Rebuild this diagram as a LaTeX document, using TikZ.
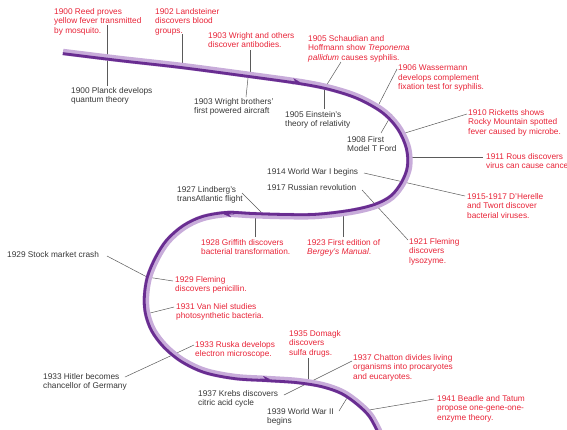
\documentclass[tikz,border=0pt]{standalone}
\usepackage{fontspec}
\setmainfont{Liberation Sans}
\usetikzlibrary{arrows.meta}
\definecolor{redtxt}{RGB}{232,35,55}
\definecolor{graytxt}{RGB}{55,55,55}
\definecolor{bandlight}{RGB}{200,172,218}
\definecolor{banddark}{RGB}{105,45,145}
\definecolor{conn}{RGB}{90,90,90}
\begin{document}
\begin{tikzpicture}[x=1pt,y=-1pt,
  lbl/.style={anchor=north west, inner sep=0pt, align=left, font=\fontsize{8.3}{9.4}\selectfont},
  ev/.style={lbl, text=redtxt},
  hist/.style={lbl, text=graytxt},
  con/.style={draw=conn, line width=0.5pt},
  tip/.style={-{Stealth[length=7pt,width=6pt]}, draw=banddark, fill=banddark, line width=0.1pt}]
\useasboundingbox (0,0) rectangle (567,429);

% connector end points
\coordinate (a1) at (107,25);  \coordinate (a2) at (107,86);
\coordinate (b1) at (182,34);  \coordinate (b2) at (182,66);
\coordinate (c1) at (250,50);  \coordinate (c2) at (250,75);
\coordinate (d1) at (246,97);  \coordinate (d2) at (248,78);
\coordinate (e1) at (341,62);  \coordinate (e2) at (326,86);
\coordinate (f1) at (324,109); \coordinate (f2) at (324,89);
\coordinate (g1) at (397,69);  \coordinate (g2) at (379,104);
\coordinate (h1) at (381,133); \coordinate (h2) at (392,114);
\coordinate (i1) at (467,114); \coordinate (i2) at (405,133);
\coordinate (j1) at (483,157); \coordinate (j2) at (410,157);
\coordinate (k1) at (364,173); \coordinate (k2) at (465,196);
\coordinate (l1) at (362,190); \coordinate (l2) at (408,240);
\coordinate (m1) at (343,237); \coordinate (m2) at (343,213);
\coordinate (n1) at (242,193); \coordinate (n2) at (262,213);
\coordinate (o1) at (255,237); \coordinate (o2) at (255,215);
\coordinate (p1) at (107,256); \coordinate (p2) at (147,277); \coordinate (p3) at (173,281);
\coordinate (q1) at (174,307); \coordinate (q2) at (150,313);
\coordinate (r1) at (194,345); \coordinate (r2) at (125,377);
\coordinate (s1) at (308,358); \coordinate (s2) at (308,381);
\coordinate (t1) at (352,361); \coordinate (t2) at (284,395);
\coordinate (u1) at (339,411); \coordinate (u2) at (347,398);
\coordinate (v1) at (434,399); \coordinate (v2) at (369,410);

\draw[con] (a1) -- (a2);
\draw[con] (b1) -- (b2);
\draw[con] (c1) -- (c2);
\draw[con] (d1) -- (d2);
\draw[con] (e1) -- (e2);
\draw[con] (f1) -- (f2);
\draw[con] (g1) -- (g2);
\draw[con] (h1) -- (h2);
\draw[con] (i1) -- (i2);
\draw[con] (j1) -- (j2);
\draw[con] (k1) -- (k2);
\draw[con] (l1) -- (l2);
\draw[con] (m1) -- (m2);
\draw[con] (n1) -- (n2);
\draw[con] (o1) -- (o2);
\draw[con] (p1) -- (p2) -- (p3);
\draw[con] (q1) -- (q2);
\draw[con] (r1) -- (r2);
\draw[con] (s1) -- (s2);
\draw[con] (t1) -- (t2);
\draw[con] (u1) -- (u2);
\draw[con] (v1) -- (v2);

% the time band: light ribbon with a dark edge on the right-hand side of travel
\draw[bandlight, line width=6.5pt] plot[smooth, tension=0.55] coordinates {(63,52) (120,59) (182,66) (250,75) (300,82) (330,88) (358,97) (383,111) (399,128) (408,148) (409,167) (403,183) (392,197) (375,206) (350,212) (315,216) (280,216) (250,215) (227,214) (203,218) (184,227) (168,241) (157,258) (149,277) (146,296) (147,313) (153,330) (165,346) (182,360) (205,371) (235,377) (267,379) (297,381) (322,385) (342,392) (358,403) (371,416) (381,435)};
\draw[banddark, line width=2.8pt] plot[smooth, tension=0.55] coordinates {(62.8,53.6) (119.8,60.6) (181.8,67.6) (249.8,76.6) (299.7,83.6) (329.6,89.5) (357.4,98.5) (382,112.3) (397.7,128.9) (406.4,148.4) (407.4,166.8) (401.6,182.2) (391,195.8) (374.5,204.5) (349.7,210.4) (314.9,214.4) (280,214.4) (250.1,213.4) (226.9,212.4) (202.5,216.5) (183.1,225.7) (166.8,240) (155.6,257.3) (147.5,276.6) (144.4,295.9) (145.4,313.3) (151.6,330.8) (163.8,347.1) (181.2,361.4) (204.5,372.5) (234.8,378.6) (266.9,380.6) (296.8,382.6) (321.6,386.6) (341.3,393.4) (357,404.2) (369.7,416.9) (379.6,435.8)};

\coordinate (w1) at (290,80.9); \coordinate (w2) at (300,82.2);
\coordinate (x1) at (234,214.2); \coordinate (x2) at (224,214.3);
\coordinate (y1) at (260,378.8); \coordinate (y2) at (270,379.2);
\draw[tip] (w1) -- (w2);
\draw[tip] (x1) -- (x2);
\draw[tip] (y1) -- (y2);

% labels
\node[ev] (reed) at (54,8) {1900 Reed proves\\yellow fever transmitted\\by mosquito.};
\node[ev] (land) at (155,8) {1902 Landsteiner\\discovers blood\\groups.};
\node[ev] (wright) at (208,32) {1903 Wright and others\\discover antibodies.};
\node[hist] (planck) at (71,87) {1900 Planck develops\\quantum theory};
\node[hist] (plane) at (194,98) {1903 Wright brothers'\\first powered aircraft};
\node[ev] (schaud) at (308,35) {1905 Schaudian and\\Hoffmann show \textit{Treponema}\\\textit{pallidum} causes syphilis.};
\node[hist] (einst) at (285,111) {1905 Einstein's\\theory of relativity};
\node[ev] (wasser) at (398,65) {1906 Wassermann\\develops complement\\fixation test for syphilis.};
\node[hist] (ford) at (347,136) {1908 First\\Model T Ford};
\node[ev] (rick) at (468,109) {1910 Ricketts shows\\Rocky Mountain spotted\\fever caused by microbe.};
\node[ev] (rous) at (486,153) {1911 Rous discovers\\virus can cause cancer};
\node[hist] (ww1) at (267,168) {1914 World War I begins};
\node[ev] (dher) at (467,193) {1915-1917 D'Herelle\\and Twort discover\\bacterial viruses.};
\node[hist] (russ) at (267,184) {1917 Russian revolution};
\node[ev] (lyso) at (409,238) {1921 Fleming\\discovers\\lysozyme.};
\node[ev] (berg) at (307,239) {1923 First edition of\\\textit{Bergey's Manual}.};
\node[hist] (lind) at (177,186) {1927 Lindberg's\\transAtlantic flight};
\node[ev] (grif) at (201,239) {1928 Griffith discovers\\bacterial transformation.};
\node[hist] (crash) at (7,251) {1929 Stock market crash};
\node[ev] (peni) at (175,276) {1929 Fleming\\discovers penicillin.};
\node[ev] (niel) at (176,303) {1931 Van Niel studies\\photosynthetic bacteria.};
\node[ev] (ruska) at (195,341) {1933 Ruska develops\\electron microscope.};
\node[hist] (hitler) at (43,373) {1933 Hitler becomes\\chancellor of Germany};
\node[ev] (domagk) at (289,330) {1935 Domagk\\discovers\\sulfa drugs.};
\node[ev] (chatton) at (353,354) {1937 Chatton divides living\\organisms into procaryotes\\and eucaryotes.};
\node[hist] (krebs) at (198,390) {1937 Krebs discovers\\citric acid cycle};
\node[hist] (ww2) at (267,408) {1939 World War II\\begins};
\node[ev] (beadle) at (437,395) {1941 Beadle and Tatum\\propose one-gene-one-\\enzyme theory.};
\end{tikzpicture}
\end{document}
